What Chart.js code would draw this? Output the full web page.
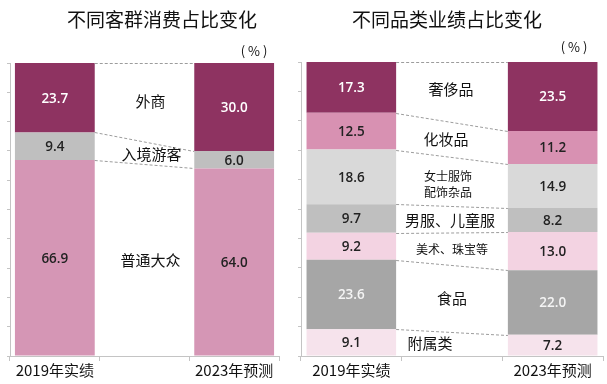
<!DOCTYPE html>
<html><head><meta charset="utf-8">
<script src="https://cdn.jsdelivr.net/npm/chart.js@4"></script>
<style>
html,body{margin:0;padding:0;background:#fff;}
#wrap{position:relative;width:607px;height:384px;overflow:hidden;background:#fff;}
#c1{position:absolute;left:0;top:0;width:300px;height:384px;}
#c2{position:absolute;left:290px;top:0;width:317px;height:384px;}
</style></head><body>
<div id="wrap"><canvas id="c1" width="300" height="384"></canvas><canvas id="c2" width="317" height="384"></canvas></div>
<script>
// ---------- data ----------
const categories = ['2019年实绩', '', '2023年预测'];

const leftTitle = '不同客群消费占比变化';
const leftSeries = ['普通大众', '入境游客', '外商'];
const leftMass    = [66.9, null, 64.0];
const leftInbound = [9.4,  null, 6.0];
const leftForeign = [23.7, null, 30.0];

const rightTitle = '不同品类业绩占比变化';
const rightSeries = ['附属类', '食品', '美术、珠宝等', '男服、儿童服', '女士服饰\n配饰杂品', '化妆品', '奢侈品'];
const rightAccessory = [9.1,  null, 7.2];
const rightFood      = [23.6, null, 22.0];
const rightArtJewel  = [9.2,  null, 13.0];
const rightMenKids   = [9.7,  null, 8.2];
const rightWomen     = [18.6, null, 14.9];
const rightCosmetics = [12.5, null, 11.2];
const rightLuxury    = [17.3, null, 23.5];

const unitText = '( % )';

// ---------- styles ----------
const CJK = '"Noto Sans CJK SC", "Noto Sans", sans-serif';
const NUM = '"Open Sans", "Noto Sans", sans-serif';

const leftStyles = [
  {bg:'#D596B5', txt:'#222', font:15, dx:6, dy:0},
  {bg:'#BFBFBF', txt:'#222', font:15, dx:7, dy:1},
  {bg:'#8E3361', txt:'#fff', font:15, dx:6, dy:-1}
];
const rightStyles = [
  {bg:'#F6E3EC', txt:'#222', font:15, dx:-22, dy:-1},
  {bg:'#A6A6A6', txt:'#f4f4f4', font:15, dx:0, dy:0},
  {bg:'#F3D3E2', txt:'#222', font:12, dx:0, dy:1},
  {bg:'#BFBFBF', txt:'#222', font:15, dx:-2, dy:1},
  {bg:'#D9D9D9', txt:'#222', font:12, dx:-4, dy:3},
  {bg:'#D891B2', txt:'#222', font:15, dx:-6, dy:0},
  {bg:'#8E3361', txt:'#fff', font:15, dx:-1, dy:-3}
];

const annot = {
  id: 'annot',
  afterDatasetsDraw(chart, args, opts) {
    const ctx = chart.ctx;
    const xs = chart.scales.x, ys = chart.scales.y;
    const dsets = chart.data.datasets;
    const metas = dsets.map((d, i) => chart.getDatasetMeta(i));
    ctx.save();
    // dashed connectors
    ctx.strokeStyle = '#9c9c9c';
    ctx.lineWidth = 1;
    ctx.setLineDash([3, 2]);
    const b0 = metas[0].data[0], b2 = metas[0].data[2];
    const xa = b0.x + b0.width / 2, xb = b2.x - b2.width / 2;
    let c0 = 0, c2 = 0;
    const mids = [];
    dsets.forEach(ds => {
      const s0 = c0, s2 = c2;
      c0 += ds.data[0]; c2 += ds.data[2];
      mids.push(((s0 + c0) / 2 + (s2 + c2) / 2) / 2);
      ctx.beginPath();
      ctx.moveTo(xa, Math.round(ys.getPixelForValue(c0)) + 0.5);
      ctx.lineTo(xb, Math.round(ys.getPixelForValue(c2)) + 0.5);
      ctx.stroke();
    });
    ctx.setLineDash([]);
    // values inside bars
    ctx.textAlign = 'center';
    ctx.textBaseline = 'middle';
    ctx.font = '600 13.5px ' + NUM;
    metas.forEach((m, i) => {
      [0, 2].forEach(j => {
        const el = m.data[j];
        ctx.fillStyle = opts.styles[i].txt;
        ctx.fillText(dsets[i].data[j].toFixed(1), el.x, (el.y + el.base) / 2 + 1);
      });
    });
    // middle series labels
    const xm = xs.getPixelForValue(1);
    ctx.fillStyle = '#111';
    dsets.forEach((ds, i) => {
      const st = opts.styles[i];
      ctx.font = st.font + 'px ' + CJK;
      const lines = ds.label.split('\n');
      const lh = st.font + 4;
      const yc = ys.getPixelForValue(mids[i]) + st.dy;
      lines.forEach((ln, k) => {
        ctx.fillText(ln, xm + st.dx, yc + (k - (lines.length - 1) / 2) * lh);
      });
    });
    // title and unit
    ctx.font = '19px ' + CJK;
    ctx.fillStyle = '#111';
    ctx.fillText(opts.title, opts.titleX, 20);
    ctx.font = '13px ' + CJK;
    ctx.fillText(unitText, opts.unitX, opts.unitY);
    ctx.restore();
  }
};

function makeChart(canvas, series, values, styles, cfg) {
  return new Chart(canvas, {
    type: 'bar',
    data: {
      labels: categories,
      datasets: series.map((s, i) => ({
        label: s,
        data: values[i],
        backgroundColor: styles[i].bg,
        borderWidth: 0,
        categoryPercentage: 1,
        barPercentage: 0.89
      }))
    },
    options: {
      responsive: false,
      devicePixelRatio: 1,
      animation: false,
      layout: {padding: {left: 0, right: cfg.padRight, top: cfg.top, bottom: 0}},
      plugins: {
        legend: {display: false},
        title: {display: false},
        tooltip: {enabled: false},
        annot: {styles: styles, title: cfg.title, titleX: cfg.titleX, unitX: cfg.unitX, unitY: cfg.unitY}
      },
      scales: {
        x: {
          stacked: true,
          afterFit: s => { s.height = 28; },
          grid: {offset: true, drawOnChartArea: false, drawTicks: true, tickLength: 5, color: '#c4c4c4'},
          border: {color: '#c4c4c4'},
          ticks: {font: {family: CJK, size: 15}, color: '#111', padding: 0, maxRotation: 0, autoSkip: false}
        },
        y: {
          stacked: true,
          min: 0, max: 100,
          afterFit: s => { s.width = cfg.yWidth; },
          grid: {drawOnChartArea: false, drawTicks: true, tickLength: 3, color: '#c4c4c4'},
          border: {color: '#c4c4c4'},
          ticks: {stepSize: 10, display: false}
        }
      }
    },
    plugins: [annot]
  });
}

makeChart(document.getElementById('c1'), leftSeries,
  [leftMass, leftInbound, leftForeign], leftStyles,
  {padRight: 21, top: 63, yWidth: 10, title: leftTitle, titleX: 162, unitX: 254, unitY: 51});

makeChart(document.getElementById('c2'), rightSeries,
  [rightAccessory, rightFood, rightArtJewel, rightMenKids, rightWomen, rightCosmetics, rightLuxury], rightStyles,
  {padRight: 4, top: 62, yWidth: 11, title: rightTitle, titleX: 157, unitX: 284, unitY: 47});
</script>
</body></html>
